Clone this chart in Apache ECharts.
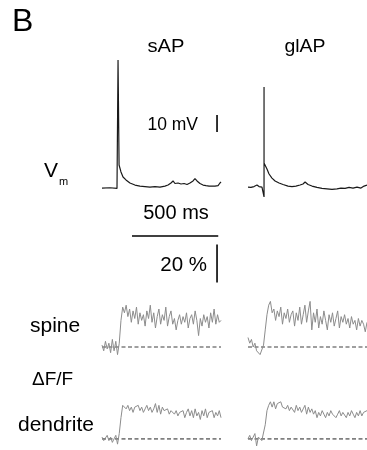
<!DOCTYPE html>
<html>
<head>
<meta charset="utf-8">
<script src="https://cdn.jsdelivr.net/npm/echarts@6/dist/echarts.min.js"></script>
<style>
html,body{margin:0;padding:0;background:#fff;}
#chart{width:367px;height:450px;}
</style>
</head>
<body>
<div id="chart"></div>
<script>
// 膜电位 (ms, mV)
var sapVmT = [0,46,87,93,93,99,110,122,139,162,191,220,249,278,307,336,365,383,400,412,423,441,458,476,493,510,528,539,551,568,586,603,621,638,655,673,684,690];
var sapVmV = [-65,-64.8,-65.2,-65,10.4,-51.4,-55.5,-58.5,-60.2,-62,-63.2,-63.8,-64.1,-64.4,-64.1,-64.4,-63.8,-63.2,-62,-60.8,-62.3,-62,-62.6,-62.3,-62.9,-62,-60.8,-59.4,-60.8,-62.3,-63.2,-63.5,-63.8,-63.8,-63.8,-63.5,-62,-61.4];
var glapVmT = [0,17,35,52,64,81,92,93,93,93,99,110,122,139,157,180,203,232,255,278,302,319,331,348,371,400,429,458,487,516,539,563,586,609,632,655,673,690];
var glapVmV = [-64.4,-64.6,-64.1,-63.2,-64.1,-64.4,-64.8,-70.2,-5.5,-50.2,-50.4,-53.8,-56.7,-59.1,-60.8,-62,-62.9,-63.8,-64.1,-63.8,-63.2,-62.6,-61.4,-62.9,-63.8,-64.6,-65.2,-65.5,-65.8,-65.5,-65,-65.2,-64.6,-65,-64.4,-65,-63.8,-63.2];

// 荧光 ΔF/F (%), 采样时间 ms
var fTime = [0,10,20,30,40,50,60,70,80,90,100,110,120,130,140,150,160,170,180,190,200,210,220,230,240,250,260,270,280,290,300,310,320,330,340,350,360,370,380,390,400,410,420,430,440,450,460,470,480,490,500,510,520,530,540,550,560,570,580,590,600,610,620,630,640,650,660,670,680,690];
var sapSpine = [1,-2,3,-1,2,-3,4,-2,3,-4,2,14,21,18,22,16,20,13,19,15,21,12,18,14,17,11,19,15,22,13,18,10,16,20,12,17,14,21,11,16,19,12,15,9,14,17,12,16,13,18,10,15,17,12,19,14,6,15,11,17,13,16,10,18,13,20,12,17,13,14];
var glapSpine = [5,2,4,0,2,-2,-1,-4,-3,1,9,17,22,24,18,20,14,19,16,21,12,18,15,20,13,17,19,11,18,14,21,12,17,22,13,19,24,9,18,13,20,10,16,12,19,14,9,17,13,18,11,15,19,10,16,13,17,12,15,10,16,12,14,9,15,11,14,12,8,13];
var sapDend = [1,-1,0,2,-1,1,-2,0,2,-3,3,12,19,20,17,19,16,18,15,18,17,19,16,18,15,17,19,16,18,15,17,20,15,19,14,18,16,15,17,14,16,15,14,16,13,15,14,16,12,15,17,13,16,12,17,13,15,11,16,13,17,12,15,14,16,12,15,13,16,12];
var glapDend = [0,2,-1,1,3,-4,1,2,-1,0,8,16,19,21,18,21,17,20,19,21,18,19,17,19,16,18,17,15,19,16,18,15,17,19,14,18,15,17,14,16,12,15,13,16,14,12,15,13,16,14,15,12,14,16,13,15,14,12,15,13,16,14,12,15,13,16,13,15,14,16];

// 比例尺
var barMs = 500;
var barMv = 10;
var barPct = 20;

function pairs(t, v) {
    var out = [];
    for (var i = 0; i < v.length; i++) {
        out.push([t[i], v[i]]);
    }
    return out;
}

function get_trace_echarts() {
    var myChart = echarts.init(document.getElementById('chart'), null, {renderer: 'canvas'});
    var vmRange = [-72, 13.29];
    var spineRange = [-6.842, 61.579];
    var dendRange = [-6.316, 30.526];
    var grids = [
        {left: 102, top: 55, width: 119, height: 145},
        {left: 248, top: 55, width: 119, height: 145},
        {left: 102, top: 230, width: 119, height: 130},
        {left: 248, top: 230, width: 119, height: 130},
        {left: 102, top: 385, width: 119, height: 70},
        {left: 248, top: 385, width: 119, height: 70}
    ];
    var ranges = [vmRange, vmRange, spineRange, spineRange, dendRange, dendRange];
    var xAxes = [], yAxes = [];
    for (var i = 0; i < grids.length; i++) {
        xAxes.push({type: 'value', gridIndex: i, min: 0, max: 690, show: false});
        yAxes.push({type: 'value', gridIndex: i, min: ranges[i][0], max: ranges[i][1], show: false});
    }

    var vmStyle = {color: '#1a1a1a', width: 1.2};
    var fStyle = {color: '#8c8c8c', width: 1};
    var dashStyle = {color: '#808080', width: 1.6, type: [4, 2.5]};
    var barStyle = {color: '#000', width: 1.6};

    function line(idx, data, style, z) {
        return {
            type: 'line', xAxisIndex: idx, yAxisIndex: idx, data: data,
            showSymbol: false, symbol: 'none', clip: false, silent: true,
            lineStyle: style, z: z || 2, animation: false
        };
    }

    var series = [
        line(0, pairs(sapVmT, sapVmV), vmStyle),
        line(1, pairs(glapVmT, glapVmV), vmStyle),
        line(2, [[0, 0], [690, 0]], dashStyle, 1),
        line(3, [[0, 0], [690, 0]], dashStyle, 1),
        line(4, [[0, 0], [690, 0]], dashStyle, 1),
        line(5, [[0, 0], [690, 0]], dashStyle, 1),
        line(2, pairs(fTime, sapSpine), fStyle),
        line(3, pairs(fTime, glapSpine), fStyle),
        line(4, pairs(fTime, sapDend), fStyle),
        line(5, pairs(fTime, glapDend), fStyle),
        // 10 mV
        line(0, [[667, -32], [667, -32 + barMv]], barStyle),
        // 500 ms
        line(2, [[174, 58.4], [174 + barMs, 58.4]], barStyle),
        // 20 %
        line(2, [[667, 34], [667, 34 + barPct]], barStyle)
    ];

    var ff = '"Liberation Sans", Arial, sans-serif';
    function txt(text, x, y, size, align, sx) {
        return {
            type: 'text', silent: true, x: x, y: y, scaleX: sx || 1,
            style: {
                text: text, x: 0, y: 0, fill: '#000',
                font: size + 'px ' + ff,
                textAlign: align || 'left', textVerticalAlign: 'middle'
            }
        };
    }

    option = {
        animation: false,
        grid: grids,
        xAxis: xAxes,
        yAxis: yAxes,
        series: series,
        graphic: [
            txt('B', 12, 22, 32),
            txt('sAP', 166, 47, 18, 'center', 1.12),
            txt('glAP', 305, 47, 18, 'center', 1.08),
            txt('10 mV', 198, 125, 17.5, 'right'),
            txt('V', 44, 171, 21),
            txt('m', 59, 182, 11),
            txt('500 ms', 176, 213, 20, 'center'),
            txt('20 %', 207, 265, 20.5, 'right'),
            txt('spine', 30, 326, 21),
            txt('\u0394F/F', 32, 380, 19),
            txt('dendrite', 18, 425, 21)
        ]
    };

    myChart.setOption(option);
}

get_trace_echarts();
</script>
</body>
</html>
